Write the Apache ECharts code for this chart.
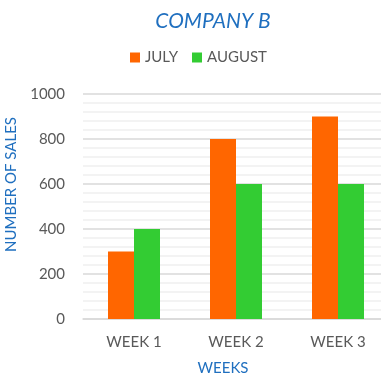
<!DOCTYPE html>
<html><head><meta charset="utf-8">
<script src="https://cdn.jsdelivr.net/npm/echarts@6/dist/echarts.min.js"></script>
<style>html,body{margin:0;padding:0;background:#fff;overflow:hidden}#c{width:381px;height:380px}</style>
</head><body><div id="c"></div>
<script>
const categories = ['WEEK 1', 'WEEK 2', 'WEEK 3'];
const july = [300, 800, 900];
const august = [400, 600, 600];
const seriesNames = ['JULY', 'AUGUST'];
const yTicks = [0, 200, 400, 600, 800, 1000];

const font = 'Lato, "Open Sans", sans-serif';
const chart = echarts.init(document.getElementById('c'));
chart.setOption({
  animation: false,
  textStyle: { fontFamily: font },
  title: {
    text: 'COMPANY B', left: 208, top: 6, textAlign: 'center',
    textStyle: { fontFamily: font, fontStyle: 'italic', fontWeight: 'normal', fontSize: 21, color: '#1F6FBF' }
  },
  legend: {
    data: seriesNames, left: 125, top: 45, itemWidth: 10, itemHeight: 10, itemGap: 14,
    icon: 'rect',
    textStyle: { fontFamily: font, fontSize: 15, color: '#595959' }
  },
  grid: { left: 83, top: 94, width: 306, height: 225, containLabel: false, outerBoundsMode: 'none' },
  xAxis: {
    type: 'category', data: categories,
    name: 'WEEKS', nameLocation: 'middle', nameGap: 42,
    nameTextStyle: { fontFamily: font, fontSize: 15, color: '#1F6FBF', padding: [0, 26, 0, 0] },
    axisLine: { lineStyle: { color: '#d9d9d9', width: 1.5 } },
    axisTick: { show: false },
    axisLabel: { fontFamily: font, fontSize: 15, color: '#595959', margin: 16 }
  },
  yAxis: {
    type: 'value', min: yTicks[0], max: yTicks[yTicks.length - 1], interval: 200,
    name: 'NUMBER OF SALES', nameLocation: 'middle', nameGap: 64,
    nameTextStyle: { fontFamily: font, fontSize: 15, color: '#1F6FBF', padding: [0, 0, 0, 44] },
    axisLine: { show: false }, axisTick: { show: false },
    axisLabel: { fontFamily: font, fontSize: 15, color: '#595959', margin: 18, formatter: v => String(v) },
    splitLine: { lineStyle: { color: '#d9d9d9', width: 1.5 } },
    minorTick: { show: false, splitNumber: 5 },
    minorSplitLine: { show: true, lineStyle: { color: '#efefef', width: 1.5 } }
  },
  series: [
    { name: seriesNames[0], type: 'bar', data: july, barWidth: 26, barGap: '0%', itemStyle: { color: '#FF6600' } },
    { name: seriesNames[1], type: 'bar', data: august, barWidth: 26, barGap: '0%', itemStyle: { color: '#33CC33' } }
  ]
});
</script></body></html>
